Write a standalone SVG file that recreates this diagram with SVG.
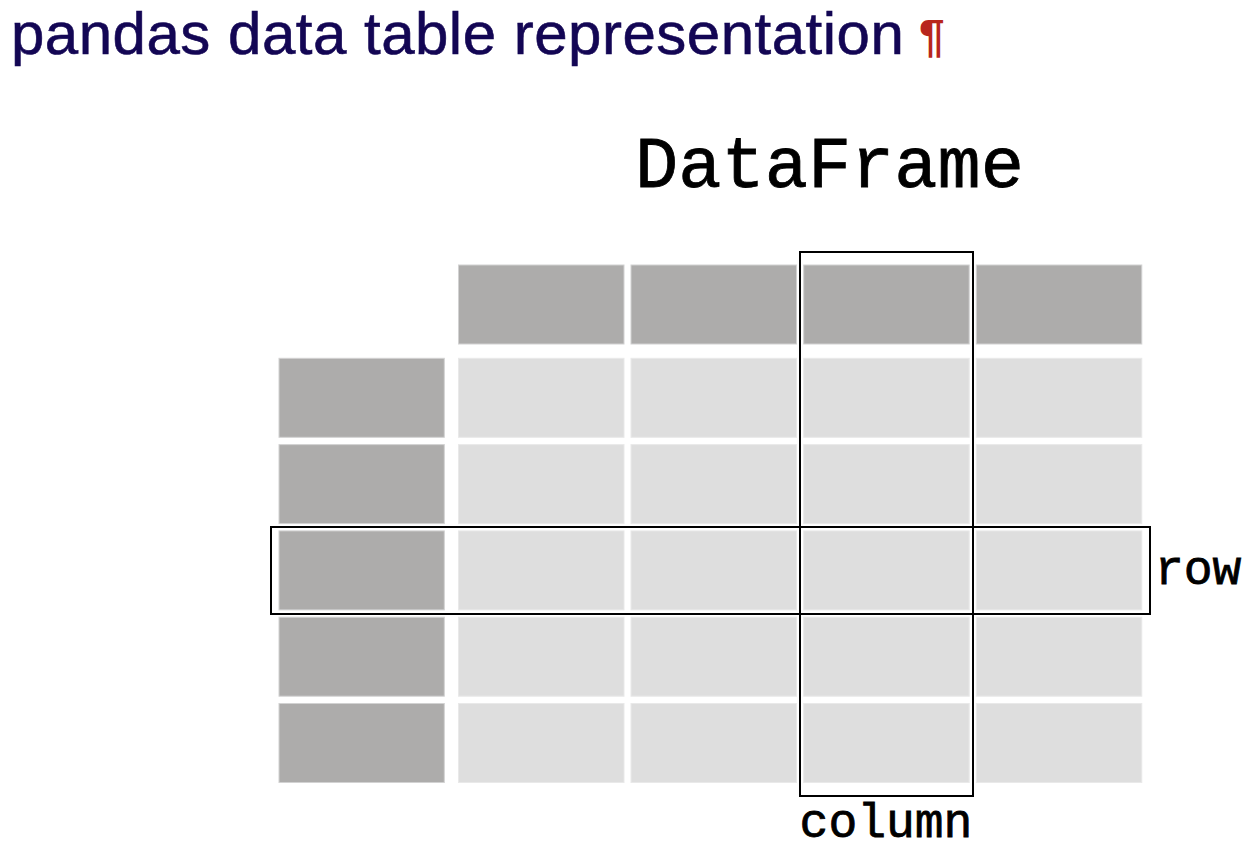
<svg xmlns="http://www.w3.org/2000/svg" width="1250" height="852" viewBox="0 0 1250 852">
<style>
.title{font-family:"Liberation Sans",Arial,sans-serif;font-size:60px;letter-spacing:0.5px;fill:#130654;stroke:#130654;stroke-width:0.6}
.pil{font-family:"Liberation Sans",Arial,sans-serif;font-size:46px;font-weight:bold;fill:#b8261c}
.mono{font-family:"Liberation Mono","Courier New",monospace;font-weight:normal;fill:#000;stroke:#000;stroke-width:0.8}
.hd{fill:#adacab;stroke:#d2d2d2;stroke-width:1}
.dt{fill:#dedede;stroke:#e9e9e9;stroke-width:1}
.sel{fill:none;stroke:#000;stroke-width:2}
</style>
<rect width="1250" height="852" fill="#fff"/>
<text class="title" x="11" y="54">pandas data table representation</text>
<text class="pil" x="919" y="52">¶</text>
<text class="mono" x="829.5" y="187" font-size="72" text-anchor="middle">DataFrame</text>
<g id="headers">
<rect class="hd" x="458.5" y="265" width="165.5" height="79"/>
<rect class="hd" x="631" y="265" width="165.5" height="79"/>
<rect class="hd" x="803.7" y="265" width="165.5" height="79"/>
<rect class="hd" x="976.3" y="265" width="165.5" height="79"/>
</g>
<g id="index">
<rect class="hd" x="279" y="358.3" width="165.3" height="79"/>
<rect class="hd" x="279" y="444.6" width="165.3" height="79"/>
<rect class="hd" x="279" y="530.9" width="165.3" height="79"/>
<rect class="hd" x="279" y="617.2" width="165.3" height="79"/>
<rect class="hd" x="279" y="703.5" width="165.3" height="79"/>
</g>
<g id="data">
<rect class="dt" x="458.5" y="358.3" width="165.5" height="79"/>
<rect class="dt" x="631" y="358.3" width="165.5" height="79"/>
<rect class="dt" x="803.7" y="358.3" width="165.5" height="79"/>
<rect class="dt" x="976.3" y="358.3" width="165.5" height="79"/>
<rect class="dt" x="458.5" y="444.6" width="165.5" height="79"/>
<rect class="dt" x="631" y="444.6" width="165.5" height="79"/>
<rect class="dt" x="803.7" y="444.6" width="165.5" height="79"/>
<rect class="dt" x="976.3" y="444.6" width="165.5" height="79"/>
<rect class="dt" x="458.5" y="530.9" width="165.5" height="79"/>
<rect class="dt" x="631" y="530.9" width="165.5" height="79"/>
<rect class="dt" x="803.7" y="530.9" width="165.5" height="79"/>
<rect class="dt" x="976.3" y="530.9" width="165.5" height="79"/>
<rect class="dt" x="458.5" y="617.2" width="165.5" height="79"/>
<rect class="dt" x="631" y="617.2" width="165.5" height="79"/>
<rect class="dt" x="803.7" y="617.2" width="165.5" height="79"/>
<rect class="dt" x="976.3" y="617.2" width="165.5" height="79"/>
<rect class="dt" x="458.5" y="703.5" width="165.5" height="79"/>
<rect class="dt" x="631" y="703.5" width="165.5" height="79"/>
<rect class="dt" x="803.7" y="703.5" width="165.5" height="79"/>
<rect class="dt" x="976.3" y="703.5" width="165.5" height="79"/>
</g>
<g id="column-box">
<rect class="sel" x="800" y="252" width="173" height="544"/>
<text class="mono" x="886" y="837" font-size="48" text-anchor="middle">column</text>
</g>
<g id="row-box">
<rect class="sel" x="271" y="527" width="879" height="87"/>
<text class="mono" x="1155" y="584" font-size="48">row</text>
</g>
</svg>
